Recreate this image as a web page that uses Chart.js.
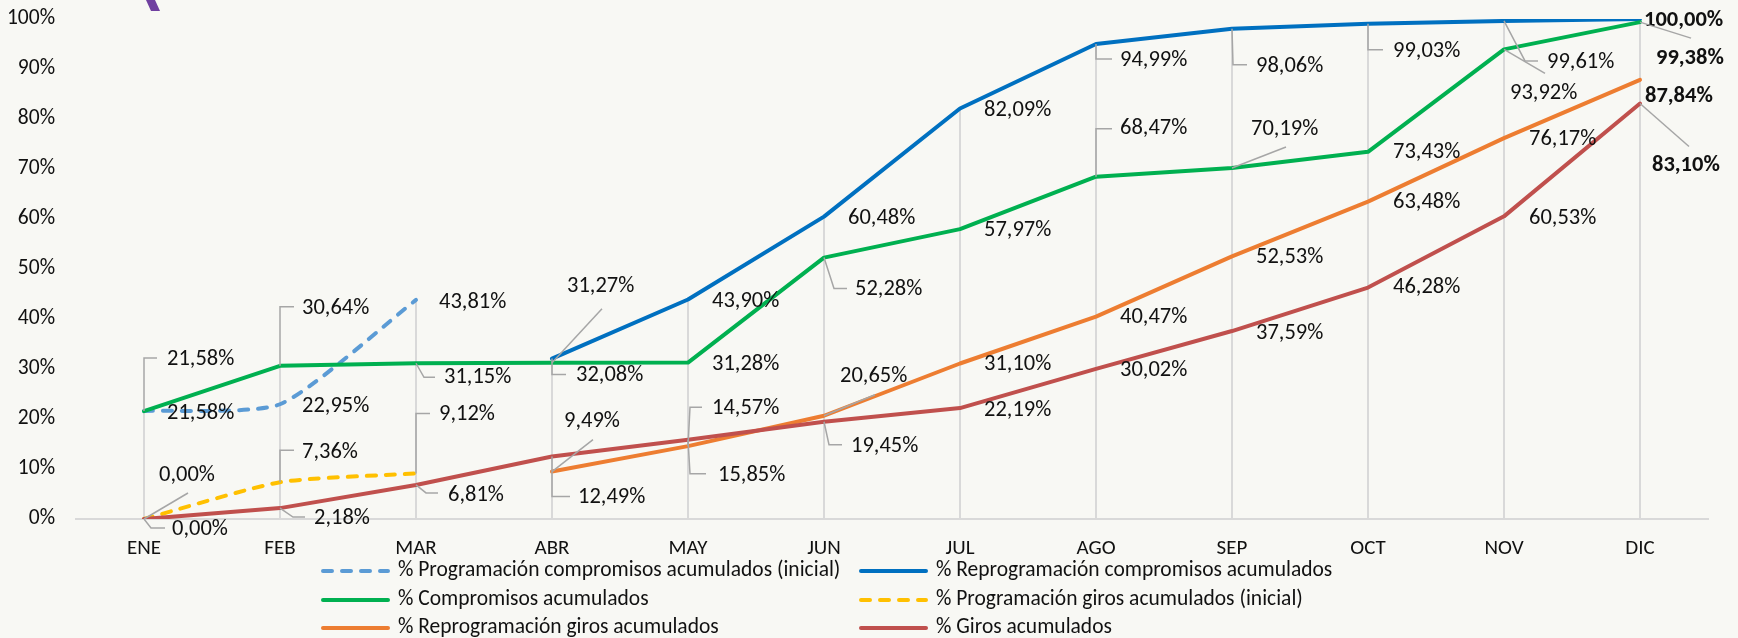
<!DOCTYPE html>
<html>
<head>
<meta charset="utf-8">
<script src="https://cdn.jsdelivr.net/npm/chart.js@4.4.0/dist/chart.umd.min.js"></script>
<style>
  html, body { margin: 0; padding: 0; background: #F8F8F4; }
  #wrap { width: 1738px; height: 638px; }
</style>
</head>
<body>
<div id="wrap"><canvas id="chart" width="1738" height="638"></canvas></div>
<script>
// data
const months = ['ENE', 'FEB', 'MAR', 'ABR', 'MAY', 'JUN', 'JUL', 'AGO', 'SEP', 'OCT', 'NOV', 'DIC'];
const progCompInicial = [21.58, 22.95, 43.81, null, null, null, null, null, null, null, null, null];
const reprogComp = [null, null, null, 32.08, 43.90, 60.48, 82.09, 94.99, 98.06, 99.03, 99.61, 100.00];
const compAcum = [21.58, 30.64, 31.15, 31.27, 31.28, 52.28, 57.97, 68.47, 70.19, 73.43, 93.92, 99.38];
const progGirosInicial = [0.00, 7.36, 9.12, null, null, null, null, null, null, null, null, null];
const reprogGiros = [null, null, null, 9.49, 14.57, 20.65, 31.10, 40.47, 52.53, 63.48, 76.17, 87.84];
const girosAcum = [0.00, 2.18, 6.81, 12.49, 15.85, 19.45, 22.19, 30.02, 37.59, 46.28, 60.53, 83.10];
const yTicks = [0, 10, 20, 30, 40, 50, 60, 70, 80, 90, 100];

const FONT = 'Carlito, Calibri, Lato, sans-serif';

// label placement relative to the point: [dx, dy, leader polyline]
const labelPos = [
  [[23, 2], [22, 2], [23, 2]],
  [null, null, null,
    [24, 17, [[0, 0], [0, 16], [14, 16]]], [24, 2], [24, 2], [24, 2],
    [24, 16, [[0, 0], [0, 15], [16, 15]]],
    [24, 38, [[0, 0], [1, 36], [15, 36]]],
    [25, 28, [[0, 0], [0, 26], [15, 26]]],
    [43, 41, [[0, 0], [21, 40], [34, 40]]],
    [4, 1]],
  [[23, -52, [[0, 0], [0, -53], [13, -53]]],
    [22, -57, [[0, 0], [0, -59], [14, -59]]],
    [28, 14, [[0, 0], [8, 14], [19, 14]]],
    [15, -76, [[0, 0], [50, -54]]],
    [24, 2],
    [31, 32, [[0, 0], [10, 31], [23, 31]]],
    [24, 1],
    [24, -48, [[0, 0], [0, -48], [16, -48]]],
    [19, -39, [[0, 0], [54, -21]]],
    [25, 1],
    [6, 44, [[0, 0], [41, 24]]],
    [16, 36, [[0, 0], [51, 16]]]],
  [[15, -44, [[0, 0], [44, -26]]],
    [22, -30, [[0, 0], [0, -32], [14, -32]]],
    [23, -59, [[0, 0], [0, -60], [14, -60]]]],
  [null, null, null,
    [12, -50, [[0, 0], [41, -32]]],
    [24, -38, [[0, 0], [2, -39], [14, -39]]],
    [16, -39, [[0, 0], [51, -21]]],
    [24, 1], [24, 1], [24, 1], [25, 1], [25, 1],
    [5, 17]],
  [[28, 10, [[0, 0], [7, 9], [21, 9]]],
    [34, 10, [[0, 0], [13, 9], [25, 9]]],
    [32, 10, [[0, 0], [10, 8], [22, 8]]],
    [26, 41, [[0, 0], [0, 40], [18, 40]]],
    [30, 36, [[0, 0], [2, 34], [18, 34]]],
    [27, 25, [[0, 0], [5, 23], [18, 23]]],
    [24, 2], [24, 1], [24, 2], [25, 0], [25, 2],
    [12, 62, [[0, 0], [49, 43]]]]
];

const fmt = v => v.toFixed(2).replace('.', ',') + '%';

const bgPlugin = {
  id: 'bg',
  beforeDraw(chart) {
    const ctx = chart.ctx;
    ctx.save();
    ctx.fillStyle = '#F8F8F4';
    ctx.fillRect(0, 0, chart.width, chart.height);
    // cropped logo stroke at the top
    ctx.fillStyle = '#7040A0';
    ctx.beginPath();
    ctx.moveTo(146, 0); ctx.lineTo(155, 0); ctx.lineTo(160, 11); ctx.lineTo(151, 11);
    ctx.closePath();
    ctx.fill();
    ctx.restore();
  }
};

// excel-style drop lines from the highest point down to the axis
const dropLines = {
  id: 'dropLines',
  beforeDatasetsDraw(chart) {
    const { ctx, scales: { x, y } } = chart;
    ctx.save();
    ctx.strokeStyle = '#D9D9D9';
    ctx.lineWidth = 2;
    months.forEach((m, i) => {
      const vals = chart.data.datasets.map(d => d.data[i]).filter(v => v !== null);
      if (!vals.length) return;
      const px = x.getPixelForValue(i);
      ctx.beginPath();
      ctx.moveTo(px, y.getPixelForValue(Math.max(...vals)));
      ctx.lineTo(px, y.getPixelForValue(0));
      ctx.stroke();
    });
    ctx.restore();
  }
};

const valueLabels = {
  id: 'valueLabels',
  afterDatasetsDraw(chart) {
    const { ctx, scales: { x, y } } = chart;
    ctx.save();
    chart.data.datasets.forEach((ds, di) => {
      ds.data.forEach((v, i) => {
        if (v === null) return;
        const pos = labelPos[di][i];
        if (!pos) return;
        const px = x.getPixelForValue(i);
        const py = y.getPixelForValue(v);
        if (pos[2]) {
          ctx.strokeStyle = '#A6A6A6';
          ctx.lineWidth = 1.5;
          ctx.beginPath();
          pos[2].forEach((p, k) => {
            if (k === 0) ctx.moveTo(px + p[0], py + p[1]);
            else ctx.lineTo(px + p[0], py + p[1]);
          });
          ctx.stroke();
        }
        ctx.fillStyle = '#111';
        ctx.font = (i === 11 ? 'bold ' : '') + '22.5px ' + FONT;
        ctx.textAlign = 'left';
        ctx.textBaseline = 'middle';
        ctx.fillText(fmt(v), px + pos[0], py + pos[1]);
      });
    });
    ctx.restore();
  }
};

const gridLegend = {
  id: 'gridLegend',
  afterDraw(chart) {
    const ctx = chart.ctx;
    const cols = [321, 859];
    const rows = [571, 600, 628];
    ctx.save();
    chart.data.datasets.forEach((ds, i) => {
      const lx = cols[i % 2];
      const ly = rows[Math.floor(i / 2)];
      ctx.strokeStyle = ds.borderColor;
      ctx.lineWidth = 4;
      ctx.lineCap = 'round';
      ctx.setLineDash(ds.borderDash || []);
      ctx.beginPath();
      ctx.moveTo(lx + 2, ly);
      ctx.lineTo(lx + 67, ly);
      ctx.stroke();
      ctx.setLineDash([]);
      ctx.fillStyle = '#111';
      ctx.font = '21.5px ' + FONT;
      ctx.textAlign = 'left';
      ctx.textBaseline = 'middle';
      ctx.fillText(ds.label, lx + 77, ly);
    });
    ctx.restore();
  }
};

const lineDs = (label, data, color, dashed) => ({
  label,
  data,
  borderColor: color,
  backgroundColor: color,
  borderWidth: 4,
  borderDash: dashed ? [9, 10] : [],
  borderCapStyle: 'round',
  borderJoinStyle: 'round',
  pointRadius: 0,
  tension: dashed ? 0.2 : 0,
  spanGaps: false
});

const datasets = [
  lineDs('% Programación compromisos acumulados (inicial)', progCompInicial, '#5B9BD5', true),
  lineDs('% Reprogramación compromisos acumulados', reprogComp, '#0070C0', false),
  lineDs('% Compromisos acumulados', compAcum, '#00B050', false),
  lineDs('% Programación giros acumulados (inicial)', progGirosInicial, '#FFC000', true),
  lineDs('% Reprogramación giros acumulados', reprogGiros, '#ED7D31', false),
  lineDs('% Giros acumulados', girosAcum, '#C0504D', false)
];
datasets.forEach((d, i) => { d.order = datasets.length - i; });

new Chart(document.getElementById('chart'), {
  type: 'line',
  data: { labels: months, datasets },
  options: {
    responsive: false,
    animation: false,
    devicePixelRatio: 1,
    layout: { padding: { top: 19, right: 30, left: 0, bottom: 0 } },
    plugins: {
      legend: { display: false },
      tooltip: { enabled: false }
    },
    scales: {
      x: {
        offset: true,
        grid: { display: false, drawTicks: false },
        border: { display: true, color: '#D9D9D9', width: 2 },
        ticks: { color: '#111', font: { family: FONT, size: 21 }, padding: 17, maxRotation: 0 },
        afterFit: s => { s.height = 119; }
      },
      y: {
        min: 0,
        max: 100,
        afterBuildTicks: s => { s.ticks = yTicks.map(v => ({ value: v })); },
        grid: { display: false, drawTicks: false },
        border: { display: false },
        ticks: { color: '#111', font: { family: FONT, size: 21.5 }, padding: 21, callback: v => v + '%' },
        afterFit: s => { s.width = 76; s.paddingTop = 0; s.paddingBottom = 0; }
      }
    }
  },
  plugins: [bgPlugin, dropLines, valueLabels, gridLegend]
});
</script>
</body>
</html>
